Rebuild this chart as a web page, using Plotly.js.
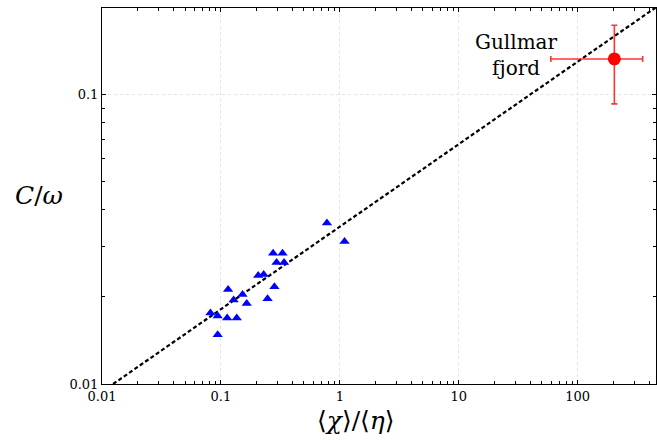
<!DOCTYPE html>
<html>
<head>
<meta charset="utf-8">
<script src="https://cdn.plot.ly/plotly-3.0.1.min.js"></script>
<style>html,body{margin:0;padding:0;background:#fff;}#chart{width:657px;height:440px;}</style>
</head>
<body>
<div id="chart"></div>
<script>
// Triangle data: <chi>/<eta> vs C/omega
const ratioX = [0.780, 1.097, 0.275, 0.330, 0.294, 0.340, 0.206, 0.229, 0.282, 0.247,
                0.115, 0.152, 0.128, 0.165, 0.0817, 0.094, 0.113, 0.136, 0.094];
const coefY  = [0.0360, 0.0311, 0.0283, 0.0283, 0.0263, 0.0263, 0.0237, 0.0239, 0.0217, 0.0197,
                0.0212, 0.0204, 0.0195, 0.0190, 0.0176, 0.0172, 0.0169, 0.0169, 0.0148];

// Gullmar fjord point with error ranges
const fjordX = [204];
const fjordXLow = [59.6];
const fjordXHigh = [353];
const fjordY = [0.133];
const fjordYLow = [0.093];
const fjordYHigh = [0.174];

// Dashed fit line end points
const fitX = [0.0124, 452];
const fitY = [0.01, 0.2];

// Tick labels
const xTickVals = [0.01, 0.1, 1, 10, 100];
const xTickText = ['0.01', '0.1', '1', '10', '100'];
const yTickVals = [0.01, 0.1];
const yTickText = ['0.01', '0.1'];

function minorTicks(lo, hi) {
  const out = [];
  for (let d = lo; d <= hi; d++) {
    for (let k = 2; k <= 9; k++) out.push(k * Math.pow(10, d));
  }
  return out;
}

const FONT = 'DejaVu Serif, Liberation Serif, serif';

const traces = [
  {
    x: fitX, y: fitY, mode: 'lines', type: 'scatter',
    line: {color: '#000', width: 2.2, dash: '4px,2.5px'},
    hoverinfo: 'skip', showlegend: false
  },
  {
    x: ratioX, y: coefY, mode: 'markers', type: 'scatter',
    marker: {symbol: 'triangle-up', size: 9, color: '#0000ff', line: {width: 0}},
    showlegend: false
  },
  {
    x: fjordX, y: fjordY, mode: 'markers', type: 'scatter',
    marker: {symbol: 'circle', size: 13, color: '#ff0000', line: {width: 0}},
    error_x: {type: 'data', symmetric: false,
      array: fjordX.map((v, i) => fjordXHigh[i] - v),
      arrayminus: fjordX.map((v, i) => v - fjordXLow[i]),
      color: 'rgba(255,0,0,0.8)', thickness: 1.6, width: 3},
    error_y: {type: 'data', symmetric: false,
      array: fjordY.map((v, i) => fjordYHigh[i] - v),
      arrayminus: fjordY.map((v, i) => v - fjordYLow[i]),
      color: 'rgba(255,0,0,0.8)', thickness: 1.6, width: 3},
    showlegend: false
  }
];

const axisCommon = {
  type: 'log',
  showline: true, linecolor: '#000', linewidth: 1, mirror: 'allticks',
  ticks: 'inside', ticklen: 4, tickwidth: 1, tickcolor: '#000',
  showgrid: true, gridcolor: '#e4e4e4', gridwidth: 1, griddash: 'dot',
  zeroline: false,
  tickfont: {family: FONT, size: 13, color: '#000'},
  tickmode: 'array'
};

const layout = {
  width: 657, height: 440,
  margin: {l: 101.5, r: 1, t: 8, b: 56.3},
  paper_bgcolor: '#fff', plot_bgcolor: '#fff',
  showlegend: false,
  xaxis: Object.assign({}, axisCommon, {
    range: [-2, 2.66],
    tickvals: xTickVals, ticktext: xTickText,
    minor: {tickvals: minorTicks(-2, 2), ticks: 'inside', ticklen: 3, tickcolor: '#000', showgrid: false}
  }),
  yaxis: Object.assign({}, axisCommon, {
    range: [-2, -0.7],
    tickvals: yTickVals, ticktext: yTickText,
    minor: {tickvals: minorTicks(-2, -1), ticks: 'inside', ticklen: 3, tickcolor: '#000', showgrid: false}
  }),
  annotations: [
    {xref: 'paper', yref: 'paper', x: 0.459, y: -0.0966, xanchor: 'center', yanchor: 'middle',
     text: '⟨<i>χ</i>⟩/⟨<i>η</i>⟩', showarrow: false, font: {family: FONT, size: 25, color: '#000'}},
    {xref: 'paper', yref: 'paper', x: -0.1145, y: 0.502, xanchor: 'center', yanchor: 'middle',
     text: '<i>C</i>/<i>ω</i>', showarrow: false, font: {family: FONT, size: 25, color: '#000'}},
    {xref: 'paper', yref: 'paper', x: 0.7475, y: 0.875, xanchor: 'center', yanchor: 'middle',
     text: 'Gullmar<br>fjord', align: 'center', showarrow: false,
     font: {family: FONT, size: 20, color: '#000'}}
  ]
};

Plotly.newPlot('chart', traces, layout, {displayModeBar: false, staticPlot: true});
</script>
</body>
</html>
